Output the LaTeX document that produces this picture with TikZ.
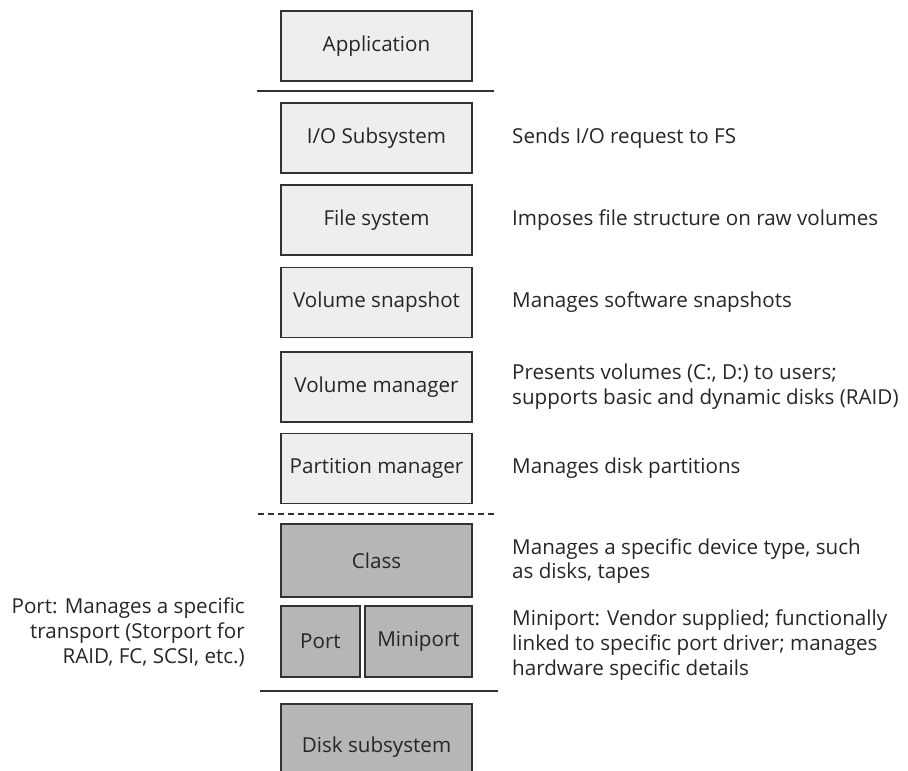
\documentclass[tikz,border=0pt]{standalone}
\usepackage{fontspec}
\setmainfont{Open Sans}
\usepackage{xcolor}
\usetikzlibrary{positioning}

\definecolor{upfill}{RGB}{238,238,238}
\definecolor{lowfill}{RGB}{182,182,182}
\definecolor{edge}{RGB}{50,50,50}

\begin{document}
\begin{tikzpicture}[x=1pt,y=-1pt,
    layer/.style={draw=edge, line width=1.2pt, fill=upfill, minimum width=191pt, minimum height=70pt, inner sep=0pt},
    lowlayer/.style={layer, fill=lowfill},
    desc/.style={anchor=west, align=left, inner sep=0pt},
    every node/.style={font=\fontsize{20.6}{24.8}\selectfont, text=black!85}]
    \clip (0,0) rectangle (908,771);

    % Capas superiores
    \node[layer] (app) at (376.5,46) {Application};
    \foreach \n/\y/\lbl/\txt in {io/138/{I/O Subsystem}/{Sends I/O request to FS},
                                 fs/220/{File system}/{Imposes file structure on raw volumes},
                                 vs/302.5/{Volume snapshot}/{Manages software snapshots},
                                 vm/387/{Volume manager}/{Presents volumes (C:, D:) to users;\\supports basic and dynamic disks (RAID)},
                                 pm/468.5/{Partition manager}/{Manages disk partitions}} {
        \node[layer] (\n) at (376.5,\y) {\lbl};  % Caja de la capa
        \node[desc] (\n-d) at (512,\y) {\txt};   % Texto a la derecha
    }

    % Capas inferiores
    \node[lowlayer, minimum height=73pt] (cls) at (376.5,560.5) {Class};
    \node[lowlayer, minimum width=79pt, minimum height=71pt] (port) at (320.5,641.5) {Port};
    \node[lowlayer, minimum width=107pt, minimum height=71pt] (mini) at (418.5,641.5) {Miniport};
    \node[lowlayer, minimum height=86pt] (disk) at (376.5,747) {Disk subsystem};

    \node[desc] (cls-d) at (512,561) {Manages a specific device type, such\\as disks, tapes};
    \node[desc] (mini-d) at (512,645) {Miniport: Vendor supplied; functionally\\linked to specific port driver; manages\\hardware specific details};
    \node[anchor=east, align=right, inner sep=0pt] (port-d) at (245,632) {Port: Manages a specific\\transport (Storport for\\RAID, FC, SCSI, etc.)};

    % Separadores
    \draw[edge, line width=1.2pt] (257,91) -- (494,91);
    \draw[edge, line width=1.2pt, dashed, dash pattern=on 6pt off 4pt] (258,514) -- (495,514);
    \draw[edge, line width=1.2pt] (260,691) -- (498,691);

\end{tikzpicture}
\end{document}
